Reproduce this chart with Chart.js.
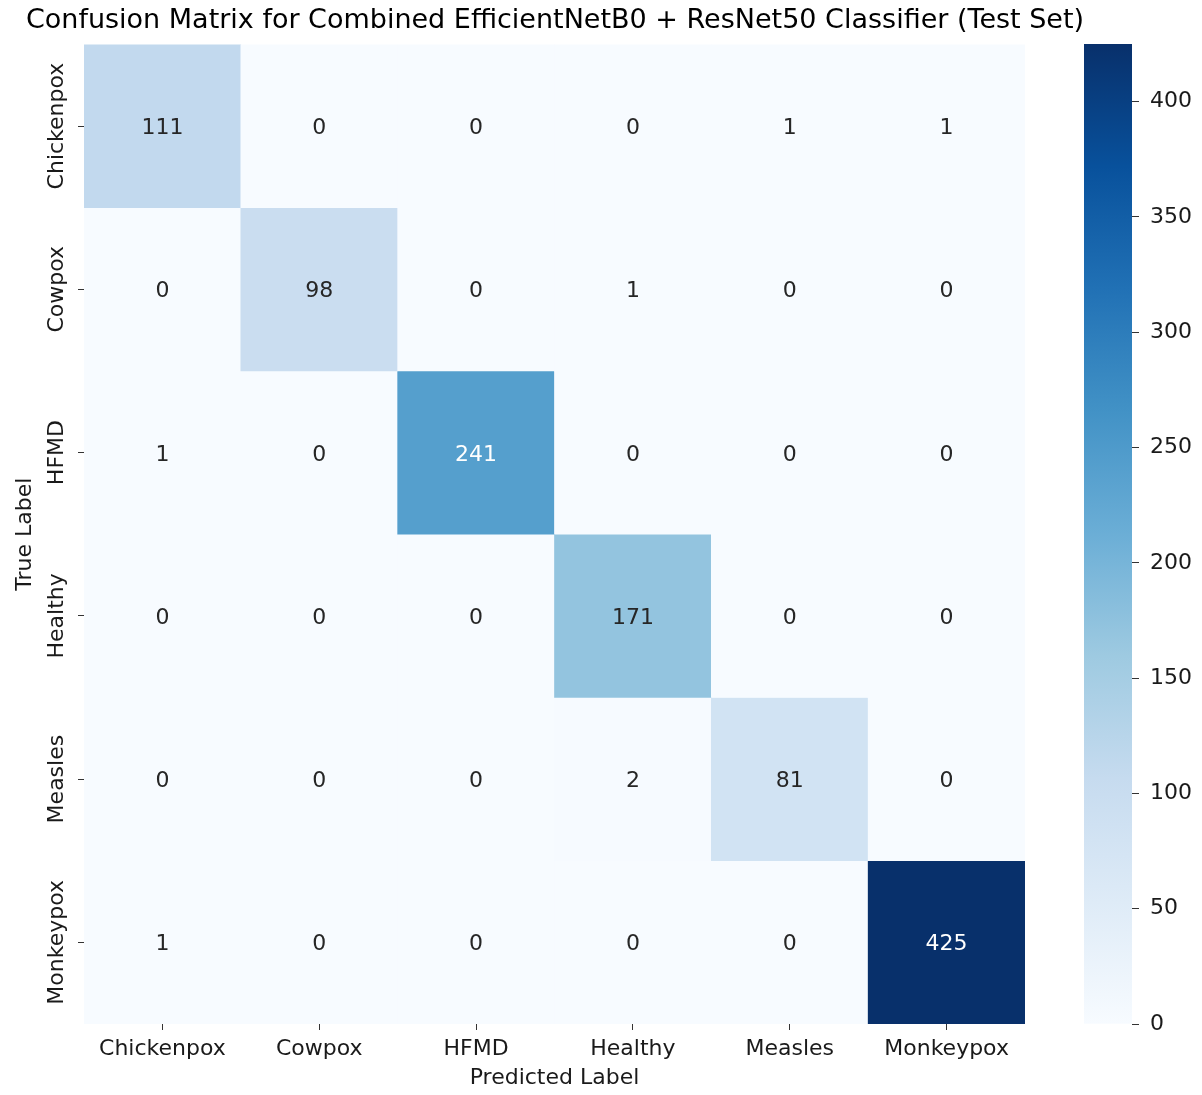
<!DOCTYPE html>
<html>
<head>
<meta charset="utf-8">
<title>Confusion Matrix</title>
<script src="https://cdn.jsdelivr.net/npm/chart.js@4.4.1/dist/chart.umd.min.js"></script>
<style>
  html, body { margin: 0; padding: 0; background: #ffffff; }
  #wrap { position: relative; width: 1202px; height: 1095px; overflow: hidden; }
  #main { position: absolute; left: 0; top: 0; }
  #cbar { position: absolute; left: 1060px; top: 0; }
</style>
</head>
<body>
<div id="wrap">
  <canvas id="main" width="1202" height="1095"></canvas>
  <canvas id="cbar" width="142" height="1095"></canvas>
</div>
<script>
// Class names (rows = true label, columns = predicted label)
const classes = ['Chickenpox', 'Cowpox', 'HFMD', 'Healthy', 'Measles', 'Monkeypox'];

// Counts per true class, in predicted-class order
const rowChickenpox = [111, 0, 0, 0, 1, 1];
const rowCowpox     = [0, 98, 0, 1, 0, 0];
const rowHFMD       = [1, 0, 241, 0, 0, 0];
const rowHealthy    = [0, 0, 0, 171, 0, 0];
const rowMeasles    = [0, 0, 0, 2, 81, 0];
const rowMonkeypox  = [1, 0, 0, 0, 0, 425];
const matrix = [rowChickenpox, rowCowpox, rowHFMD, rowHealthy, rowMeasles, rowMonkeypox];

// Colour scale range and colorbar ticks
const vmin = 0;
const vmax = 425;
const colorbarTicks = [0, 50, 100, 150, 200, 250, 300, 350, 400];

const FONT = 'DejaVu Sans';
const TEXT = '#1a1a1a';

// Matplotlib "Blues" colormap control points
const BLUES = [
  [247, 251, 255], [222, 235, 247], [198, 219, 239], [158, 202, 225],
  [107, 174, 214], [66, 146, 198], [33, 113, 181], [8, 81, 156], [8, 48, 107]
];
function blues(t) {
  t = Math.min(1, Math.max(0, t));
  const p = t * (BLUES.length - 1);
  const i = Math.min(BLUES.length - 2, Math.floor(p));
  const f = p - i;
  const a = BLUES[i], b = BLUES[i + 1];
  return [0, 1, 2].map(k => Math.round(a[k] + (b[k] - a[k]) * f));
}
const rgb = c => `rgb(${c[0]},${c[1]},${c[2]})`;
function luminance(c) {
  const l = c.map(v => {
    v /= 255;
    return v <= 0.03928 ? v / 12.92 : Math.pow((v + 0.055) / 1.055, 2.4);
  });
  return 0.2126 * l[0] + 0.7152 * l[1] + 0.0722 * l[2];
}
const norm = v => (v - vmin) / (vmax - vmin);

// Cell count labels, centred on the digit height
const cellLabels = {
  id: 'cellLabels',
  afterDatasetsDraw(chart) {
    const ctx = chart.ctx;
    const size = 22;
    ctx.save();
    ctx.font = `${size}px "${FONT}"`;
    ctx.textAlign = 'center';
    ctx.textBaseline = 'alphabetic';
    chart.data.datasets.forEach((ds, i) => {
      const meta = chart.getDatasetMeta(i);
      meta.data.forEach((bar, j) => {
        const v = ds.counts[j];
        const c = blues(norm(v));
        const p = bar.getCenterPoint();
        ctx.fillStyle = luminance(c) > 0.408 ? '#262626' : '#ffffff';
        ctx.fillText(String(v), p.x, p.y + size * 0.729 / 2);
      });
    });
    ctx.restore();
  }
};

// Vertical (rotated) class names on the true-label axis
const rowNames = {
  id: 'rowNames',
  afterDraw(chart) {
    const ys = chart.scales.y;
    const ctx = chart.ctx;
    ctx.save();
    ctx.font = `22px "${FONT}"`;
    ctx.fillStyle = TEXT;
    ctx.textAlign = 'center';
    ctx.textBaseline = 'middle';
    const x = ys.right - 27;
    classes.forEach((name, i) => {
      ctx.save();
      ctx.translate(x, ys.getPixelForValue(i));
      ctx.rotate(-Math.PI / 2);
      ctx.fillText(name, 0, 0);
      ctx.restore();
    });
    ctx.restore();
  }
};

new Chart(document.getElementById('main'), {
  type: 'bar',
  data: {
    labels: classes,
    datasets: matrix.map((row, i) => ({
      label: classes[i],
      counts: row,
      data: row.map(() => [i - 0.5, i + 0.5]),
      backgroundColor: row.map(v => rgb(blues(norm(v)))),
      borderWidth: 0,
      barPercentage: 1,
      categoryPercentage: 1,
      grouped: false
    }))
  },
  options: {
    responsive: false,
    animation: false,
    layout: { padding: { left: 0, right: 92, top: 0, bottom: 0 } },
    plugins: {
      legend: { display: false },
      tooltip: { enabled: false },
      title: {
        display: true,
        fullSize: true,
        text: 'Confusion Matrix for Combined EfficientNetB0 + ResNet50 Classifier (Test Set)',
        color: '#000000',
        font: { family: FONT, size: 27, weight: 'normal' },
        padding: { top: 5, bottom: 7 }
      }
    },
    scales: {
      x: {
        type: 'category',
        offset: true,
        grid: { drawOnChartArea: false, offset: false, tickLength: 6, color: '#333333', lineWidth: 1 },
        border: { display: false },
        ticks: { color: TEXT, font: { family: FONT, size: 22 }, padding: 6, minRotation: 0, maxRotation: 0 },
        title: {
          display: true, text: 'Predicted Label', color: TEXT,
          font: { family: FONT, size: 22 }, padding: { top: 0, bottom: 4 }
        },
        afterFit(s) { s.height = 71; }
      },
      y: {
        type: 'linear',
        reverse: true,
        min: -0.5,
        max: 5.5,
        afterBuildTicks(s) { s.ticks = classes.map((_, i) => ({ value: i })); },
        ticks: { display: false },
        grid: { drawOnChartArea: false, tickLength: 6, color: '#333333', lineWidth: 1 },
        border: { display: false },
        title: {
          display: true, text: 'True Label', color: TEXT,
          font: { family: FONT, size: 22 }, padding: { top: 12, bottom: 0 }
        },
        afterFit(s) { s.width = 84; }
      },
      // empty spacer on the right, leaving the gap before the colorbar
      gap: {
        type: 'linear',
        position: 'right',
        display: true,
        ticks: { display: false },
        grid: { display: false },
        border: { display: false },
        afterFit(s) { s.width = 85; }
      }
    }
  },
  plugins: [cellLabels, rowNames]
});

// Colorbar
new Chart(document.getElementById('cbar'), {
  type: 'bar',
  data: {
    labels: [''],
    datasets: [{
      data: [[vmin, vmax]],
      backgroundColor(ctx) {
        const ca = ctx.chart.chartArea;
        if (!ca) return 'rgba(0,0,0,0)';
        const g = ctx.chart.ctx.createLinearGradient(0, ca.bottom, 0, ca.top);
        BLUES.forEach((c, k) => g.addColorStop(k / (BLUES.length - 1), rgb(c)));
        return g;
      },
      borderWidth: 0,
      barPercentage: 1,
      categoryPercentage: 1
    }]
  },
  options: {
    responsive: false,
    animation: false,
    layout: { padding: { left: 24, right: 0, top: 44, bottom: 71 } },
    plugins: { legend: { display: false }, tooltip: { enabled: false } },
    scales: {
      x: { display: false },
      y: {
        position: 'right',
        min: vmin,
        max: vmax,
        afterBuildTicks(s) { s.ticks = colorbarTicks.map(v => ({ value: v })); },
        ticks: { color: TEXT, font: { family: FONT, size: 22 }, padding: 11 },
        grid: { drawOnChartArea: false, tickLength: 7, color: '#333333', lineWidth: 1 },
        border: { display: false },
        afterFit(s) { s.width = 70; }
      }
    }
  }
});
</script>
</body>
</html>
